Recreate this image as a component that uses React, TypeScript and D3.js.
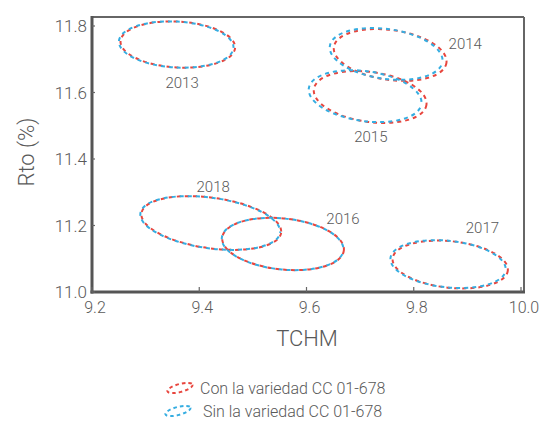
import React from "react";
import * as d3 from "d3";

// Confidence ellipses of TCHM vs Rto per harvest year
const years = ["2013", "2014", "2015", "2016", "2017", "2018"];
// ellipse centres, "Con la variedad CC 01-678"
const conCx = [9.36, 9.756, 9.7187, 9.5563, 9.868, 9.4225];
const conCy = [11.7443, 11.713, 11.5865, 11.1444, 11.0827, 11.2075];
// ellipse centres, "Sin la variedad CC 01-678"
const sinCx = [9.357, 9.7485, 9.7093, 9.5555, 9.864, 9.4205];
const sinCy = [11.7443, 11.716, 11.589, 11.1444, 11.084, 11.2075];
// semi-axes (major in TCHM, minor in Rto) and tilt in degrees
const semiMajor = [0.107, 0.106, 0.106, 0.114, 0.108, 0.1315];
const semiMinor = [0.069, 0.075, 0.075, 0.0767, 0.07, 0.076];
const tilt = [3.3, 8, 8, 6, 6, 8];
// year label anchors (TCHM, Rto)
const labelX = [9.368, 9.896, 9.72, 9.668, 9.928, 9.426];
const labelY = [11.614, 11.731, 11.451, 11.2045, 11.177, 11.301];

const xTicks = [9.2, 9.4, 9.6, 9.8, 10.0];
const yTicks = [11.0, 11.2, 11.4, 11.6, 11.8];
const legendLabels = ["Con la variedad CC 01-678", "Sin la variedad CC 01-678"];

const RED = "#e8463e";
const BLUE = "#35ade1";
const TEXT = "#595959";
const FONT = "Roboto, 'Liberation Sans', sans-serif";

export default function App() {
  const left = 92, right = 524, top = 17, bottom = 292;
  const x = d3.scaleLinear().domain([9.2, 10.0]).range([92, 521]);
  const y = d3.scaleLinear().domain([11.0, 11.8]).range([bottom, 26]);
  const pxX = (v: number) => x(9.2 + v) - x(9.2);
  const pxY = (v: number) => y(11.0) - y(11.0 + v);

  const ellipse = (cx: number[], cy: number[], i: number, color: string, offset: number) => (
    <ellipse
      key={`${color}-${i}`}
      cx={0}
      cy={0}
      rx={pxX(semiMajor[i])}
      ry={pxY(semiMinor[i])}
      transform={`translate(${x(cx[i])},${y(cy[i])}) rotate(${tilt[i]})`}
      fill="none"
      stroke={color}
      strokeWidth={2}
      strokeDasharray="4 4"
      strokeDashoffset={offset}
    />
  );

  return (
    <svg width={546} height={424} style={{ position: "absolute", left: 0, top: 0, background: "#fff" }} fontFamily={FONT} fontWeight={300}>
      {/* frame */}
      <line x1={left} x2={right} y1={top} y2={top} stroke="#666" strokeWidth={2} />
      <line x1={right} x2={right} y1={top} y2={bottom} stroke="#666" strokeWidth={2} />
      <line x1={left} x2={left} y1={top - 1} y2={bottom + 1.5} stroke="#555" strokeWidth={3} />
      <line x1={left - 1.5} x2={right + 1} y1={bottom} y2={bottom} stroke="#555" strokeWidth={3} />

      {/* ticks */}
      {xTicks.map((t) => (
        <g key={`xt${t}`}>
          <line x1={x(t)} x2={x(t)} y1={bottom} y2={bottom - 5} stroke="#666" strokeWidth={1.2} />
          <text x={x(t) + 3} y={bottom + 21} textAnchor="middle" fontSize={16} fill={TEXT}>
            {t.toFixed(1)}
          </text>
        </g>
      ))}
      {yTicks.map((t) => (
        <g key={`yt${t}`}>
          <line x1={left} x2={left + 3} y1={y(t)} y2={y(t)} stroke="#666" strokeWidth={1.2} />
          <text x={left - 5} y={y(t) + 6} textAnchor="end" fontSize={17} fill={TEXT}>
            {t.toFixed(1)}
          </text>
        </g>
      ))}

      {/* axis titles */}
      <text x={307} y={346} textAnchor="middle" fontSize={22} fill={TEXT}>TCHM</text>
      <text transform="translate(34,152) rotate(-90)" textAnchor="middle" fontSize={22} fill={TEXT}>Rto (%)</text>

      {/* ellipses */}
      {years.map((_, i) => ellipse(conCx, conCy, i, RED, 0))}
      {years.map((_, i) => ellipse(sinCx, sinCy, i, BLUE, 4))}

      {/* year labels */}
      {years.map((yr, i) => (
        <text key={yr} x={x(labelX[i])} y={y(labelY[i])} textAnchor="middle" fontSize={15} fill={TEXT}>
          {yr}
        </text>
      ))}

      {/* legend */}
      {legendLabels.map((lab, i) => (
        <g key={lab} transform={`translate(0,${i * 23})`}>
          <ellipse
            cx={0}
            cy={0}
            rx={13}
            ry={4}
            transform={`translate(${180 - i * 2},388) rotate(-15)`}
            fill="none"
            stroke={i === 0 ? RED : BLUE}
            strokeWidth={2}
            strokeDasharray="3.5 3"
          />
          <text x={200 + i * 3} y={394} fontSize={16} fill={TEXT}>{lab}</text>
        </g>
      ))}
    </svg>
  );
}
